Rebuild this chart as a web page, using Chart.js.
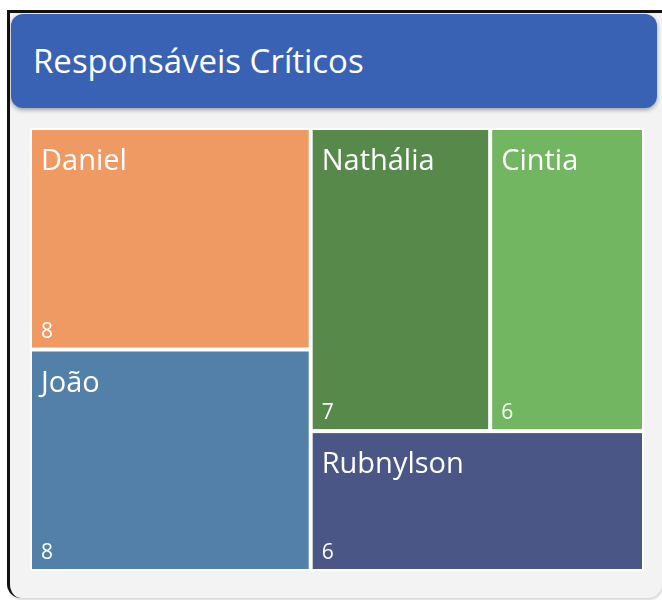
<!DOCTYPE html>
<html><head><meta charset="utf-8">
<script src="https://cdn.jsdelivr.net/npm/chart.js@4/dist/chart.umd.min.js"></script>
<style>
html,body{margin:0;padding:0;background:#fff;width:662px;height:600px;overflow:hidden;font-family:"Open Sans",sans-serif;}
#card{position:absolute;left:7px;top:10px;width:652px;height:585px;background:#f3f3f3;border-left:3px solid #111;border-top:3px solid #111;border-bottom-left-radius:14px;border-bottom-right-radius:14px;box-shadow:1px 2px 2px rgba(0,0,0,0.15);}
#header{position:absolute;left:11px;top:14px;width:646px;height:94px;border-radius:12px;background:#3A62B4;box-shadow:0 2px 4px rgba(0,0,0,0.35);}
#title{position:absolute;left:33px;top:44px;font-family:"Open Sans",sans-serif;font-size:33px;line-height:1;color:#fff;white-space:nowrap;}
#plotBg{position:absolute;left:30px;top:128px;width:614px;height:443px;background:#fff;}
#wrap{position:absolute;left:30px;top:128px;width:614px;height:443px;}
</style></head>
<body>
<div id="card"></div>
<div id="header"></div>
<div id="title">Responsáveis Críticos</div>
<div id="plotBg"></div>
<div id="wrap"><canvas id="c" width="614" height="443"></canvas></div>
<script>
const names = ["Daniel", "João", "Nathália", "Cintia", "Rubnylson"];
const values = [8, 8, 7, 6, 6];
const colors = ["#EE9A62", "#5280A8", "#56894A", "#73B662", "#4A5686"];

const W = 614, H = 443;

function squarify(vals, x, y, w, h) {
  const total = vals.reduce((a, b) => a + b, 0);
  const area = w * h;
  let items = vals.map((v, i) => ({ i, a: v / total * area }));
  const out = [];
  let rect = { x, y, w, h };
  let row = [];
  function worst(r, side) {
    const s = r.reduce((a, b) => a + b.a, 0);
    const len = s / side;
    let mx = 0;
    for (const it of r) { const o = it.a / len; mx = Math.max(mx, len / o, o / len); }
    return mx;
  }
  function layoutRow(r) {
    const s = r.reduce((a, b) => a + b.a, 0);
    if (rect.w >= rect.h) {
      const cw = s / rect.h; let cy = rect.y;
      for (const it of r) { const rh = it.a / cw; out[it.i] = { x: rect.x, y: cy, w: cw, h: rh }; cy += rh; }
      rect = { x: rect.x + cw, y: rect.y, w: rect.w - cw, h: rect.h };
    } else {
      const rh = s / rect.w; let cx = rect.x;
      for (const it of r) { const rw = it.a / rh; out[it.i] = { x: cx, y: rect.y, w: rw, h: rh }; cx += rw; }
      rect = { x: rect.x, y: rect.y + rh, w: rect.w, h: rect.h - rh };
    }
  }
  while (items.length) {
    const side = Math.min(rect.w, rect.h);
    const next = items[0];
    if (row.length === 0 || worst(row.concat([next]), side) <= worst(row, side)) { row.push(next); items.shift(); }
    else { layoutRow(row); row = []; }
  }
  if (row.length) layoutRow(row);
  return out;
}

const cells = squarify(values, 0, 0, W, H);

const treemapPlugin = {
  id: 'treemapCells',
  beforeDatasetsDraw(chart) {
    const { ctx, scales } = chart;
    const xs = scales.x, ys = scales.y;
    const gap = 2;
    ctx.save();
    cells.forEach((c, i) => {
      const x0 = xs.getPixelForValue(c.x) + gap;
      const x1 = xs.getPixelForValue(c.x + c.w) - gap;
      const y0 = ys.getPixelForValue(c.y) + gap;
      const y1 = ys.getPixelForValue(c.y + c.h) - gap;
      ctx.fillStyle = colors[i];
      ctx.fillRect(x0, y0, x1 - x0, y1 - y0);
      ctx.fillStyle = '#ffffff';
      ctx.textBaseline = 'alphabetic';
      ctx.textAlign = 'left';
      ctx.font = '29px "Open Sans", sans-serif';
      ctx.fillText(names[i], x0 + 9, y0 + 40);
      ctx.font = '21px "Open Sans", sans-serif';
      ctx.fillText(String(values[i]), x0 + 9, y1 - 10);
    });
    ctx.restore();
  }
};

new Chart(document.getElementById('c'), {
  type: 'scatter',
  data: {
    datasets: [{
      label: 'Responsáveis',
      data: cells.map((c, i) => ({ x: c.x + c.w / 2, y: c.y + c.h / 2, v: values[i] })),
      pointRadius: 0,
      pointHoverRadius: 0
    }]
  },
  options: {
    responsive: false,
    animation: false,
    layout: { padding: 0 },
    plugins: { legend: { display: false }, tooltip: { enabled: false }, title: { display: false } },
    scales: {
      x: { type: 'linear', min: 0, max: W, display: false },
      y: { type: 'linear', min: 0, max: H, reverse: true, display: false }
    }
  },
  plugins: [treemapPlugin]
});
</script>
</body></html>
